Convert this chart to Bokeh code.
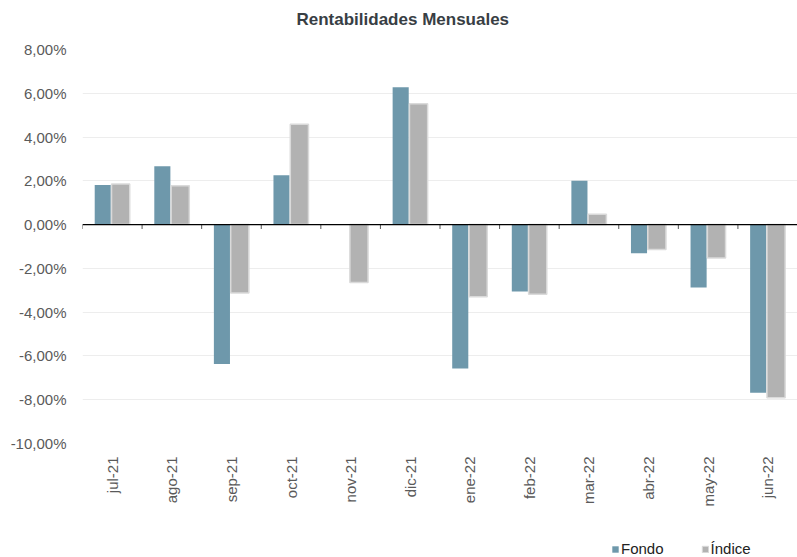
import math
import numpy as np
from bokeh.plotting import figure
from bokeh.layouts import column
from bokeh.models import (ColumnDataSource, Span, FixedTicker, CustomJSTickFormatter,
                          Legend, LegendItem, Range1d)
from bokeh.embed import file_html
from bokeh.resources import INLINE

months = ["jul-21", "ago-21", "sep-21", "oct-21", "nov-21", "dic-21",
          "ene-22", "feb-22", "mar-22", "abr-22", "may-22", "jun-22"]
fondo = [1.81, 2.67, -6.37, 2.25, -0.02, 6.27, -6.57, -3.06, 2.00, -1.31, -2.87, -7.68]
indice = [1.85, 1.78, -3.12, 4.58, -2.65, 5.52, -3.29, -3.18, 0.47, -1.14, -1.52, -7.91]
y_ticks = [8, 6, 4, 2, 0, -2, -4, -6, -8, -10]
y_tick_labels = ["8,00%", "6,00%", "4,00%", "2,00%", "0,00%", "-2,00%",
                 "-4,00%", "-6,00%", "-8,00%", "-10,00%"]
series_names = ["Fondo", "Índice"]
title_text = "Rentabilidades Mensuales"

FONT = "Liberation Sans"
C_FONDO = "#6E98AB"
C_INDICE = "#B2B2B2"


def blank_strip(height):
    f = figure(width=797, height=height, output_backend="svg", toolbar_location=None,
               x_range=Range1d(0, 1), y_range=Range1d(0, 1),
               min_border_left=0, min_border_right=0, min_border_top=0,
               min_border_bottom=0)
    f.axis.visible = False
    f.grid.visible = False
    f.outline_line_color = None
    f.border_fill_color = "white"
    return f


# ---- title strip ----
p0 = blank_strip(40)
p0.title.text = title_text
p0.title.align = "left"
p0.title.offset = 214
p0.title.vertical_align = "top"
p0.title.standoff = 18
p0.title.text_font = FONT
p0.title.text_font_size = "17px"
p0.title.text_font_style = "bold"
p0.title.text_color = "#383E44"

# ---- main chart ----
idx = np.arange(len(months))
src = ColumnDataSource(dict(
    xf=idx + 0.34, xi=idx + 0.64, fondo=fondo, indice=indice))

p = figure(width=797, height=490, output_backend="svg", toolbar_location=None,
           title=None,
           x_range=Range1d(0, len(months)), y_range=Range1d(-10, 8),
           min_border_left=82, min_border_right=0, min_border_top=9,
           min_border_bottom=87)
p.outline_line_color = None
p.background_fill_color = "white"
p.border_fill_color = "white"

rf = p.vbar(x="xf", top="fondo", bottom=0, width=0.27, source=src,
            fill_color=C_FONDO, line_color=None)
ri = p.vbar(x="xi", top="indice", bottom=0, width=0.305, source=src,
            fill_color=C_INDICE, line_color="#DADADA", line_width=1.5)

# zero line and its small ticks at category boundaries
p.add_layout(Span(location=0, dimension="width", line_color="black", line_width=1.3))
p.segment(x0=idx, x1=idx, y0=0, y1=-0.2, line_color="#555555", line_width=1)

# y axis
p.yaxis.ticker = FixedTicker(ticks=y_ticks)
p.yaxis.major_label_overrides = {t: l for t, l in zip(y_ticks, y_tick_labels)}
p.yaxis.axis_line_color = None
p.yaxis.major_tick_line_color = None
p.yaxis.minor_tick_line_color = None
p.yaxis.major_label_text_font = FONT
p.yaxis.major_label_text_font_size = "15px"
p.yaxis.major_label_text_color = "#5A5A5A"
p.yaxis.major_label_standoff = 10

# x axis
p.xaxis.ticker = FixedTicker(ticks=list(idx + 0.5))
p.xaxis.formatter = CustomJSTickFormatter(args=dict(labels=months),
                                          code="return labels[Math.floor(tick)];")
p.xaxis.axis_line_color = None
p.xaxis.major_tick_line_color = None
p.xaxis.minor_tick_line_color = None
p.xaxis.major_label_orientation = math.pi / 2
p.xaxis.major_label_text_font = FONT
p.xaxis.major_label_text_font_size = "15px"
p.xaxis.major_label_text_color = "#5A5A5A"
p.xaxis.major_label_standoff = 7

p.xgrid.grid_line_color = None
p.ygrid.ticker = FixedTicker(ticks=y_ticks)
p.ygrid.grid_line_color = "#EDEDED"
p.ygrid.grid_line_width = 1

# ---- legend strip ----
p2 = blank_strip(27)
# legend-only renderers, kept outside the visible range of this strip
dummy = ColumnDataSource(dict(x=[0.5], top=[-1], bottom=[-2]))
lf = p2.vbar(x="x", top="top", bottom="bottom", width=0.1, source=dummy,
             fill_color=C_FONDO, line_color=None)
li = p2.vbar(x="x", top="top", bottom="bottom", width=0.1, source=dummy,
             fill_color=C_INDICE, line_color="#DADADA", line_width=1)

legend = Legend(items=[LegendItem(label=series_names[0], renderers=[lf]),
                       LegendItem(label=series_names[1], renderers=[li])],
                orientation="horizontal", location=(529, 0))
legend.background_fill_alpha = 0
legend.border_line_color = None
legend.padding = 0
legend.margin = 0
legend.spacing = 37
legend.glyph_width = 8
legend.glyph_height = 8
legend.label_height = 16
legend.label_standoff = 2
legend.label_text_font = FONT
legend.label_text_font_size = "15px"
legend.label_text_color = "#222222"
p2.add_layout(legend, "center")

layout = column(p0, p, p2, spacing=0)
open("out.html", "w").write(file_html(layout, INLINE))
